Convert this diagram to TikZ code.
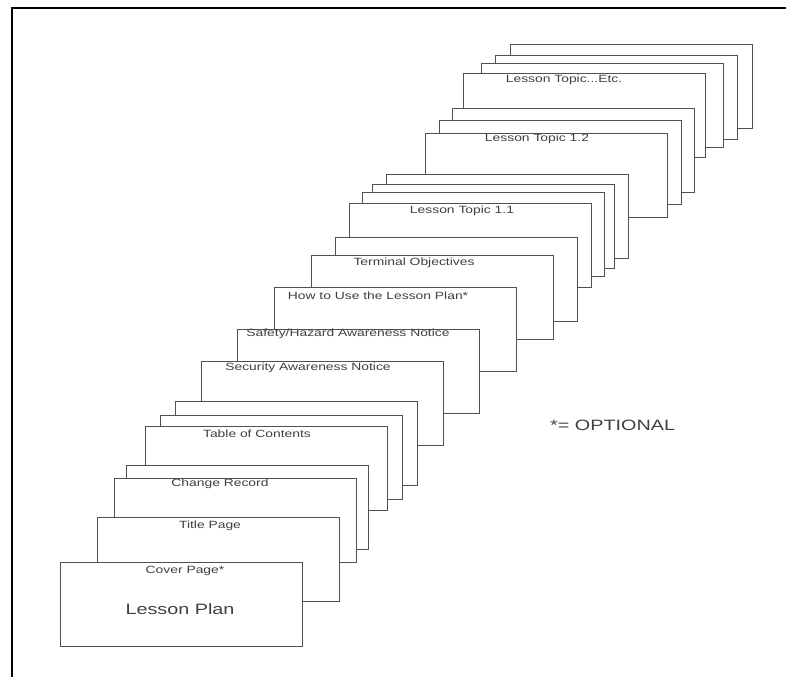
\documentclass[tikz,border=0pt]{standalone}
\usepackage{fontspec}
\usepackage{graphicx}
\setmainfont{Liberation Sans}
\definecolor{pageline}{HTML}{505050}
\definecolor{pagetext}{HTML}{404040}
\newcommand{\widetext}[1]{\scalebox{1.32}[1]{#1}}
\tikzset{
  page/.style={draw=pageline, line width=1.4pt, fill=white, rectangle, inner sep=0pt,
    minimum width=241.5pt, minimum height=84pt, anchor=north west},
  pagelabel/.style={text=pagetext, inner sep=0pt, font=\fontsize{10.5}{12}\selectfont},
  biglabel/.style={text=pagetext, inner sep=0pt, font=\fontsize{15}{17}\selectfont},
  frameline/.style={draw=black, line width=1.6pt}
}
\begin{document}
\begin{tikzpicture}[x=1pt, y=-1pt]
\useasboundingbox (0,0) rectangle (786,677);
\draw[frameline] (12,677) -- (12,8) -- (786,8);
% pages, back to front
\node[page] (e3) at (510,44) {};
\node[page] (e2) at (495,55) {};
\node[page] (e1) at (481,63) {};
\node[page] (etc) at (463,73) {};
\node[page] (t2b) at (452,108) {};
\node[page] (t2a) at (439,120) {};
\node[page] (t12) at (425,133) {};
\node[page] (t1c) at (386,174) {};
\node[page] (t1b) at (372,184) {};
\node[page] (t1a) at (362,192) {};
\node[page] (t11) at (349,203) {};
\node[page] (tob) at (335,237) {};
\node[page] (to) at (311,255) {};
\node[page] (hu) at (274,287) {};
\node[page] (sh) at (237,329) {};
\node[page] (sa) at (201,361) {};
\node[page] (c2) at (175,401) {};
\node[page] (c1) at (160,415) {};
\node[page] (toc) at (145,426) {};
\node[page] (crb) at (126,465) {};
\node[page] (cr) at (114,478) {};
\node[page] (tp) at (97,517) {};
\node[page] (cp) at (60,562) {};
% labels
\node[pagelabel] (letc) at (564,80) {\widetext{Lesson Topic...Etc.}};
\node[pagelabel] (l12) at (537,139) {\widetext{Lesson Topic 1.2}};
\node[pagelabel] (l11) at (462,211) {\widetext{Lesson Topic 1.1}};
\node[pagelabel] (lto) at (414,263) {\widetext{Terminal Objectives}};
\node[pagelabel] (lhu) at (378,296) {\widetext{How to Use the Lesson Plan*}};
\node[pagelabel] (lsh) at (348,334) {\widetext{Safety/Hazard Awareness Notice}};
\node[pagelabel] (lsa) at (308,368) {\widetext{Security Awareness Notice}};
\node[pagelabel] (ltoc) at (257,434) {\widetext{Table of Contents}};
\node[pagelabel] (lcr) at (220,484) {\widetext{Change Record}};
\node[pagelabel] (ltp) at (210,526) {\widetext{Title Page}};
\node[pagelabel] (lcp) at (185,571) {\widetext{Cover Page*}};
\node[biglabel] (llp) at (180,609) {\widetext{Lesson Plan}};
\node[biglabel, anchor=west] (opt) at (550,425) {\widetext{*= OPTIONAL}};
\end{tikzpicture}
\end{document}
